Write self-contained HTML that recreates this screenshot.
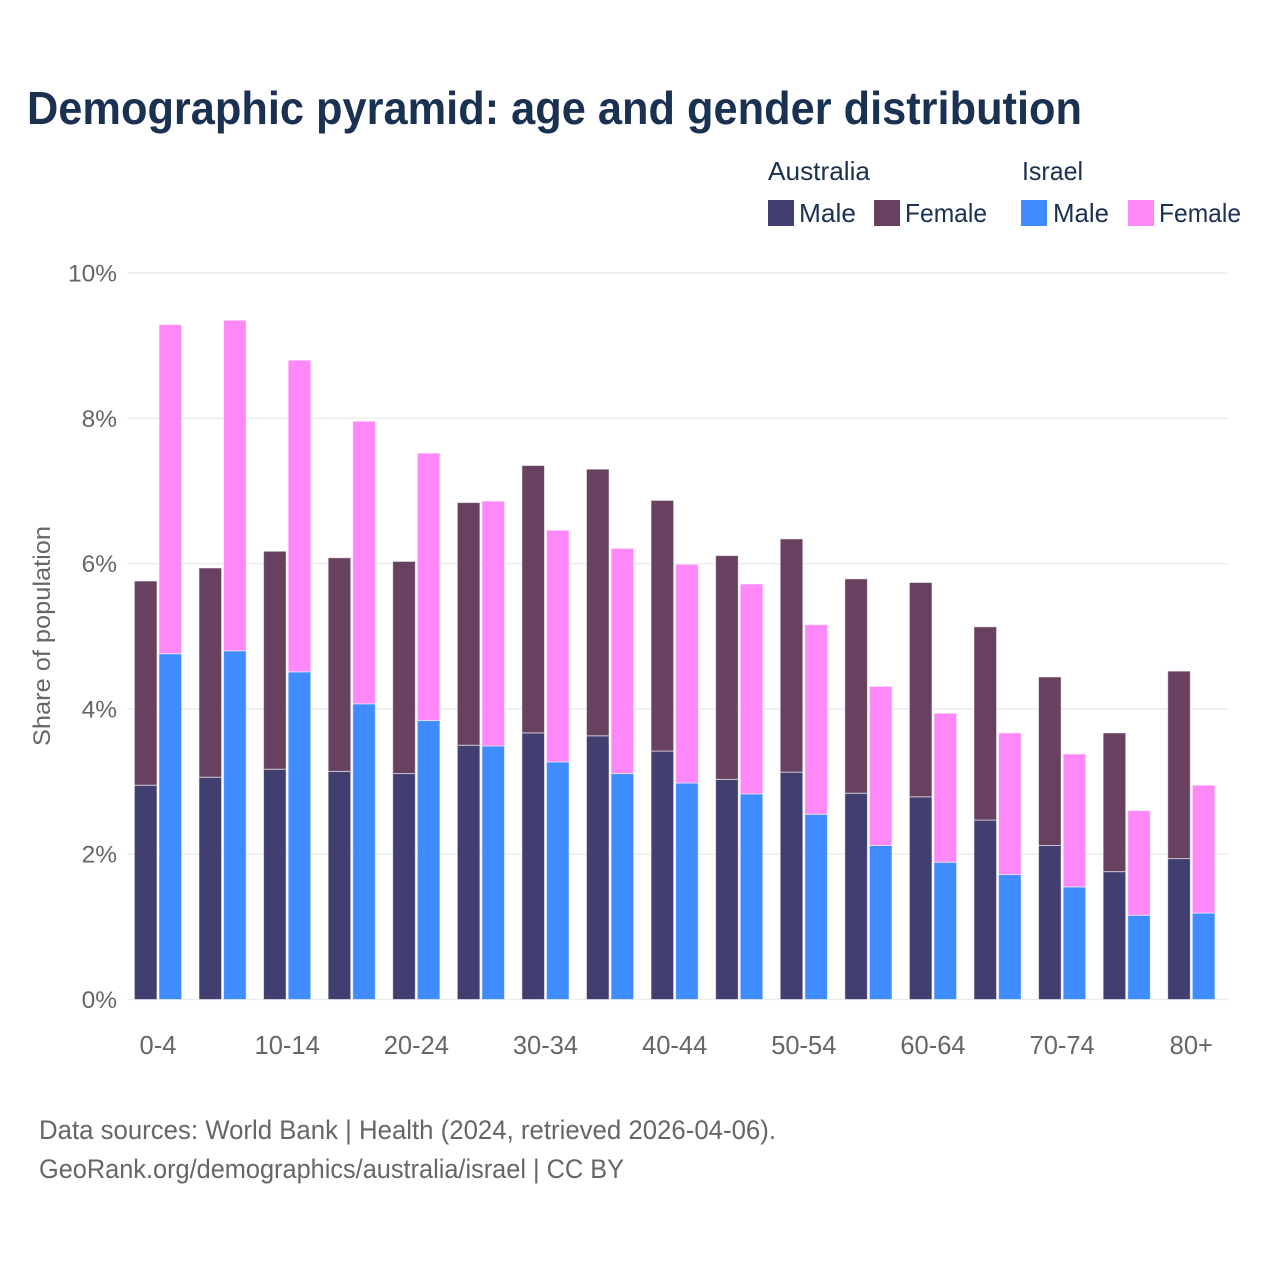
<!DOCTYPE html>
<html lang="en">
<head>
<meta charset="utf-8">
<title>Demographic pyramid</title>
<style>
html,body{margin:0;padding:0;background:#fff;width:1280px;height:1280px;overflow:hidden}
svg{display:block}
text{font-family:"Liberation Sans",sans-serif}
.tick{font-size:24.5px;fill:#666666}
.xtick{font-size:25.5px;fill:#666666}
.leg{font-size:26px;fill:#1a3152}
.foot{font-size:26.5px;fill:#666666}
</style>
</head>
<body>
<svg id="chart" xmlns="http://www.w3.org/2000/svg" width="1280" height="1280" viewBox="0 0 1280 1280">
  <rect width="1280" height="1280" fill="#ffffff"/>
  <text x="27" y="124" font-size="46.5" font-weight="700" fill="#1a3152" textLength="1055" lengthAdjust="spacingAndGlyphs">Demographic pyramid: age and gender distribution</text>

  <g>
    <text class="leg" x="768" y="180" textLength="102" lengthAdjust="spacingAndGlyphs">Australia</text>
    <text class="leg" x="1022" y="180" textLength="61" lengthAdjust="spacingAndGlyphs">Israel</text>
    <rect x="768" y="200" width="26" height="26" fill="#413f70"/>
    <text class="leg" x="799" y="222" textLength="57" lengthAdjust="spacingAndGlyphs">Male</text>
    <rect x="874" y="200" width="26" height="26" fill="#684160"/>
    <text class="leg" x="905" y="222" textLength="82" lengthAdjust="spacingAndGlyphs">Female</text>
    <rect x="1021" y="200" width="26" height="26" fill="#3f8cff"/>
    <text class="leg" x="1053" y="222" textLength="56" lengthAdjust="spacingAndGlyphs">Male</text>
    <rect x="1128" y="200" width="26" height="26" fill="#ff88f9"/>
    <text class="leg" x="1159" y="222" textLength="82" lengthAdjust="spacingAndGlyphs">Female</text>
  </g>

  <text transform="translate(50,636) rotate(-90)" text-anchor="middle" font-size="24.5" fill="#666666" textLength="220" lengthAdjust="spacingAndGlyphs">Share of population</text>

  <g id="grid"></g>
  <g id="yticks"></g>
  <g id="bars"></g>
  <g id="xticks"></g>

  <text class="foot" x="39" y="1139" textLength="737" lengthAdjust="spacingAndGlyphs">Data sources: World Bank | Health (2024, retrieved 2026-04-06).</text>
  <text class="foot" x="39" y="1178" textLength="585" lengthAdjust="spacingAndGlyphs">GeoRank.org/demographics/australia/israel | CC BY</text>
</svg>
<script>
const categories = ["0-4","5-9","10-14","15-19","20-24","25-29","30-34","35-39","40-44","45-49","50-54","55-59","60-64","65-69","70-74","75-79","80+"];
const australiaMale = [2.95,3.06,3.17,3.14,3.11,3.50,3.67,3.63,3.42,3.03,3.13,2.84,2.79,2.47,2.12,1.76,1.94];
const australiaFemale = [2.81,2.88,3.00,2.94,2.92,3.34,3.68,3.67,3.45,3.08,3.21,2.95,2.95,2.66,2.32,1.91,2.58];
const israelMale = [4.76,4.80,4.51,4.07,3.84,3.49,3.27,3.11,2.98,2.83,2.55,2.12,1.89,1.72,1.55,1.16,1.19];
const israelFemale = [4.53,4.55,4.29,3.89,3.68,3.37,3.19,3.10,3.01,2.89,2.61,2.19,2.05,1.95,1.83,1.44,1.76];
const yTicks = [0,2,4,6,8,10];
const yTickLabels = ["0%","2%","4%","6%","8%","10%"];

const NS = "http://www.w3.org/2000/svg";
const plotLeft = 125.7, plotRight = 1223.6, plotTop = 273, plotBottom = 999.5;
const yMax = 10;
function yScale(v){ return plotBottom - (v / yMax) * (plotBottom - plotTop); }
function xCenter(i){ return plotLeft + (i + 0.5) * (plotRight - plotLeft) / categories.length; }
const barWidth = 22.6, barGap = 2;

const gridG = document.getElementById('grid');
const yG = document.getElementById('yticks');
yTicks.forEach(function(t, i){
  const line = document.createElementNS(NS, 'line');
  
  
  line.setAttribute('x1', 127);
  line.setAttribute('x2', 1228);
  line.setAttribute('y1', yScale(t));
  line.setAttribute('y2', yScale(t));
  line.setAttribute('stroke', '#ebecee');
  line.setAttribute('stroke-width', '1.5');
  gridG.appendChild(line);
  const label = document.createElementNS(NS, 'text');
  
  
  label.setAttribute('class', 'tick');
  label.setAttribute('x', 117);
  label.setAttribute('y', yScale(t) + 8.5);
  label.setAttribute('text-anchor', 'end');
  label.textContent = yTickLabels[i];
  yG.appendChild(label);
});

const barsG = document.getElementById('bars');
function addBar(x, base, value, fill, name){
  const r = document.createElementNS(NS, 'rect');
  
  
  r.setAttribute('x', x);
  r.setAttribute('y', yScale(base + value));
  r.setAttribute('width', barWidth);
  r.setAttribute('height', yScale(base) - yScale(base + value));
  r.setAttribute('fill', fill);
  r.setAttribute('stroke', '#ffffff');
  r.setAttribute('stroke-opacity', '0.55');
  r.setAttribute('stroke-width', '1');
  barsG.appendChild(r);
}
categories.forEach(function(c, i){
  const cx = xCenter(i);
  const xA = cx - barWidth - barGap / 2;
  const xB = cx + barGap / 2;
  addBar(xA, 0, australiaMale[i], '#413f70', 'bar-australia-male');
  addBar(xA, australiaMale[i], australiaFemale[i], '#684160', 'bar-australia-female');
  addBar(xB, 0, israelMale[i], '#3f8cff', 'bar-israel-male');
  addBar(xB, israelMale[i], israelFemale[i], '#ff88f9', 'bar-israel-female');
});

const xG = document.getElementById('xticks');
categories.forEach(function(c, i){
  if (i % 2 !== 0) return;
  const label = document.createElementNS(NS, 'text');
  
  
  label.setAttribute('class', 'xtick');
  label.setAttribute('x', xCenter(i));
  label.setAttribute('y', 1054);
  label.setAttribute('text-anchor', 'middle');
  label.textContent = c;
  xG.appendChild(label);
});
</script>
</body>
</html>
